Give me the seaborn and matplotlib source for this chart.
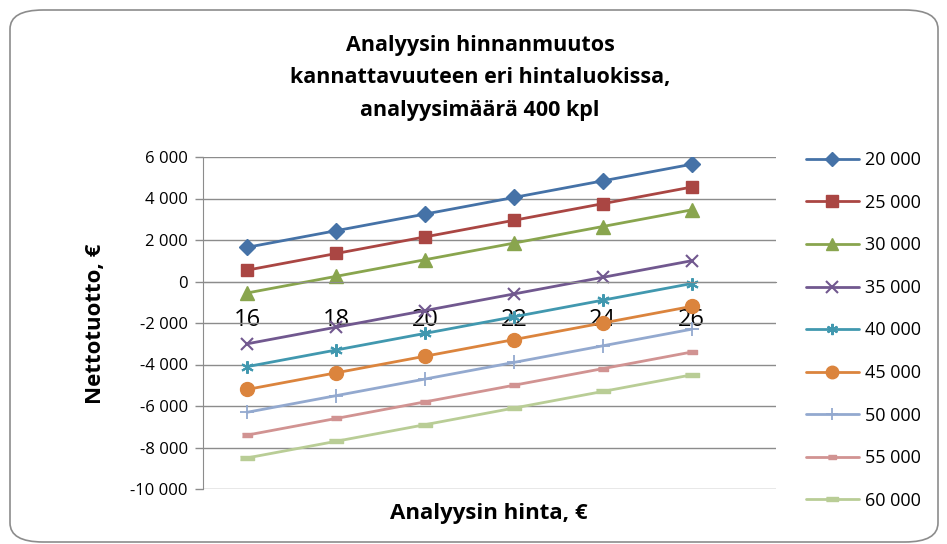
import numpy as np
import matplotlib
matplotlib.use("Agg")
from matplotlib import pyplot as plt
from matplotlib.patches import FancyBboxPatch
from matplotlib.ticker import FuncFormatter, FixedLocator
import seaborn as sns

# Analyysin hinta (x) ja nettotuotto eri hintaluokissa
hinnat = [16, 18, 20, 22, 24, 26]
sarjat = ["20 000", "25 000", "30 000", "35 000", "40 000",
          "45 000", "50 000", "55 000", "60 000"]
tuotto_20000 = [1650, 2450, 3250, 4050, 4850, 5650]
tuotto_25000 = [550, 1350, 2150, 2950, 3750, 4550]
tuotto_30000 = [-550, 250, 1050, 1850, 2650, 3450]
tuotto_35000 = [-3000, -2200, -1400, -600, 200, 1000]
tuotto_40000 = [-4100, -3300, -2500, -1700, -900, -100]
tuotto_45000 = [-5200, -4400, -3600, -2800, -2000, -1200]
tuotto_50000 = [-6300, -5500, -4700, -3900, -3100, -2300]
tuotto_55000 = [-7400, -6600, -5800, -5000, -4200, -3400]
tuotto_60000 = [-8500, -7700, -6900, -6100, -5300, -4500]
y_tikit = [-10000, -8000, -6000, -4000, -2000, 0, 2000, 4000, 6000]

kaikki = [tuotto_20000, tuotto_25000, tuotto_30000, tuotto_35000, tuotto_40000,
          tuotto_45000, tuotto_50000, tuotto_55000, tuotto_60000]
varit = ["#4572A7", "#AA4643", "#89A54E", "#71588F", "#4198AF",
         "#DB843D", "#93A9CF", "#D19392", "#B9CD96"]
# lyhyet palkit 55 000 ja 60 000 sarjoille
palkki_55 = [(-1, -0.4), (1, -0.4), (1, 0.4), (-1, 0.4)]
palkki_60 = [(-1, -0.3), (1, -0.3), (1, 0.3), (-1, 0.3)]
merkit = ["D", "s", "^", "x", (6, 2, 0), "o", "+", palkki_55, palkki_60]
koot = [8, 9, 10, 9, 9, 10, 10, 7, 10]
reunat = [1, 1, 1, 1.5, 1.5, 1, 1.3, 1, 1]

sns.set_style("white")
plt.rcParams["font.family"] = ["Open Sans", "DejaVu Sans"]
plt.rcParams["text.color"] = "black"
plt.rcParams["xtick.color"] = "black"
plt.rcParams["ytick.color"] = "black"

fig = plt.figure(figsize=(9.47, 5.44), dpi=100)
ax = fig.add_axes([203 / 947, 1 - 489 / 544, 573 / 947, 332 / 544])

for nimi, arvot, vari, merkki, koko, mew in zip(sarjat, kaikki, varit, merkit, koot, reunat):
    sns.lineplot(x=hinnat, y=arvot, ax=ax, color=vari, linewidth=2,
                 marker=merkki, markersize=koko, markeredgecolor=vari,
                 markerfacecolor=vari, markeredgewidth=mew, label=nimi)

ax.set_xlim(15.0, 27.9)
ax.set_ylim(-10000, 6000)
ax.set_yticks(y_tikit)
ax.yaxis.set_major_formatter(FuncFormatter(lambda v, p: f"{int(v):,}".replace(",", " ")))
ax.grid(axis="y", color="#8c8c8c", linewidth=1)
ax.set_axisbelow(True)

# x-akseli kulkee nollan kohdalta
for s in ["top", "right"]:
    ax.spines[s].set_visible(False)
ax.spines["bottom"].set_position(("data", 0))
ax.spines["bottom"].set_color("#8c8c8c")
ax.spines["left"].set_color("#8c8c8c")
ax.set_xticks(hinnat)
ax.xaxis.set_minor_locator(FixedLocator([17, 19, 21, 23, 25, 27.9]))
ax.tick_params(axis="x", which="major", length=0, labelsize=17, pad=19, labelcolor="black")
ax.tick_params(axis="x", which="minor", length=6, color="#8c8c8c", width=1, direction="out")
ax.tick_params(axis="y", length=6, color="#8c8c8c", width=1, direction="out",
               left=True, labelsize=12, pad=5, labelcolor="black")

ax.set_xlabel("")
ax.set_ylabel("")
fig.text(489 / 947, 1 - 513 / 544, "Analyysin hinta, €", ha="center", va="center",
         fontsize=16, fontweight="bold")
fig.text(95 / 947, 1 - 324 / 544, "Nettotuotto, €", ha="center", va="center",
         rotation=90, fontsize=16, fontweight="bold")
fig.text(480 / 947, 1 - 78 / 544,
         "Analyysin hinnanmuutos\nkannattavuuteen eri hintaluokissa,\nanalyysimäärä 400 kpl",
         ha="center", va="center", fontsize=15.5, fontweight="bold", linespacing=1.72)

leg = ax.legend(loc="upper left", bbox_to_anchor=(790 / 947, 1 - 135 / 544),
                bbox_transform=fig.transFigure, frameon=False, fontsize=13,
                handlelength=2.9, labelspacing=1.36, handletextpad=0.35, markerscale=0.9)

reuna = FancyBboxPatch((10 / 947, 2 / 544), 928 / 947, 532 / 544,
                       boxstyle="round,pad=0,rounding_size=0.035",
                       transform=fig.transFigure, facecolor="none",
                       edgecolor="#8c8c8c", linewidth=1.2)
fig.patches.append(reuna)

fig.savefig("out.png", dpi=100)
